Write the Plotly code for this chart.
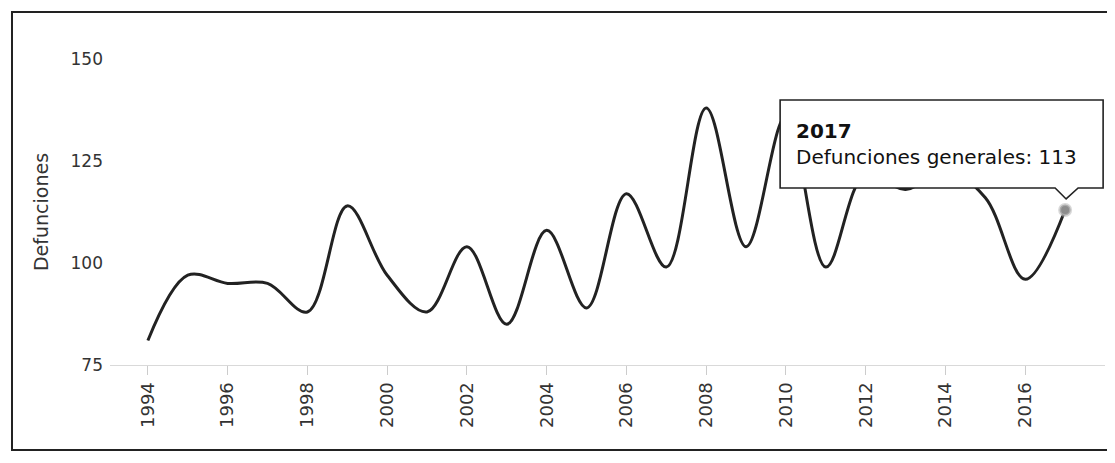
import plotly.graph_objects as go

# Defunciones generales por año
anios = [1994, 1995, 1996, 1997, 1998, 1999, 2000, 2001, 2002, 2003, 2004, 2005,
         2006, 2007, 2008, 2009, 2010, 2011, 2012, 2013, 2014, 2015, 2016, 2017]
defunciones = [81, 97, 95, 95, 88, 114, 97, 88, 104, 85, 108, 89,
               117, 99, 138, 104, 136, 99, 122, 118, 123, 116, 96, 113]
serie = "Defunciones generales"

ticks_x = [1994, 1996, 1998, 2000, 2002, 2004, 2006, 2008, 2010, 2012, 2014, 2016]
ticks_y = [75, 100, 125, 150]

fig = go.Figure()

fig.add_trace(go.Scatter(
    x=anios, y=defunciones, name=serie, mode="lines",
    line=dict(color="#222222", width=3, shape="spline", smoothing=1.0),
))

# punto resaltado (último año, el del tooltip)
fig.add_trace(go.Scatter(
    x=[anios[-1]], y=[defunciones[-1]], mode="markers",
    marker=dict(size=11, color="#8c8c8c", line=dict(width=3, color="rgba(190,190,190,0.6)")),
))

# contorno del tooltip con su pico, en píxeles alrededor del punto
fig.add_shape(
    type="path", xref="x", yref="y", xsizemode="pixel", ysizemode="pixel",
    xanchor=anios[-1], yanchor=defunciones[-1],
    path="M -285,110 L 38,110 L 38,22 L 13,22 L 1,11 L -10,22 L -285,22 Z",
    fillcolor="white", line=dict(color="#222222", width=1.6),
    layer="above",
)
# fondo blanco + texto del tooltip (tapa la línea)
fig.add_annotation(
    x=anios[-1], y=defunciones[-1], xref="x", yref="y", showarrow=False,
    text=f"<b>{anios[-1]}</b><br>{serie}: {defunciones[-1]}",
    xanchor="left", yanchor="bottom", align="left", valign="middle",
    width=291, height=56, borderpad=15, borderwidth=0,
    bgcolor="white", xshift=-284, yshift=23,
    font=dict(family="DejaVu Sans", size=20, color="#111111"),
)

# marco del escaneo
fig.add_shape(
    type="rect", xref="paper", yref="paper",
    x0=-0.0985, x1=1.007, y0=-0.278, y1=1.154,
    line=dict(color="#222222", width=2), fillcolor="rgba(0,0,0,0)",
)

fig.update_layout(
    width=1107, height=455, autosize=False,
    margin=dict(l=102, r=10, t=51, b=98),
    paper_bgcolor="white", plot_bgcolor="white",
    showlegend=False, hovermode=False,
    font=dict(family="DejaVu Sans", color="#333333"),
)
fig.update_xaxes(
    range=[1993.05, 2018.0], tickvals=ticks_x, ticktext=[str(t) for t in ticks_x],
    tickangle=-90, tickfont=dict(size=18, color="#333333"),
    ticks="outside", ticklen=9, tickcolor="#cccccc",
    showline=True, linecolor="#d9d9d9", linewidth=1,
    showgrid=False, zeroline=False,
)
fig.update_yaxes(
    range=[75, 150], tickvals=ticks_y, tickfont=dict(size=17, color="#333333"),
    ticklabelstandoff=6,
    title=dict(text="Defunciones", font=dict(size=19, color="#333333"), standoff=16),
    showgrid=False, zeroline=False, showline=False, ticks="",
)

fig.write_html("out.html", config={"displayModeBar": False})
